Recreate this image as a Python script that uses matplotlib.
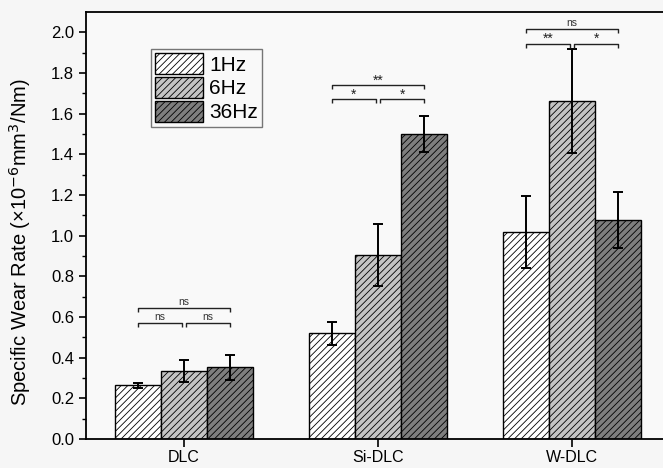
import numpy as np
import matplotlib
matplotlib.use('Agg')
import matplotlib.pyplot as plt

plt.rcParams['font.family'] = ['Liberation Sans', 'DejaVu Sans']
plt.rcParams['hatch.linewidth'] = 0.6

# --- data ---
groups = ['DLC', 'Si-DLC', 'W-DLC']
freqs = ['1Hz', '6Hz', '36Hz']
rate_1hz = [0.264, 0.519, 1.017]
rate_6hz = [0.336, 0.906, 1.664]
rate_36hz = [0.352, 1.500, 1.078]
err_1hz = [0.012, 0.058, 0.178]
err_6hz = [0.054, 0.152, 0.255]
err_36hz = [0.062, 0.090, 0.137]

# significance brackets: (group index, bar i, bar j, height, label)
sig_marks = [
    (0, 0, 1, 0.570, 'ns'), (0, 1, 2, 0.570, 'ns'), (0, 0, 2, 0.644, 'ns'),
    (1, 0, 1, 1.671, '*'), (1, 1, 2, 1.671, '*'), (1, 0, 2, 1.741, '**'),
    (2, 0, 1, 1.944, '**'), (2, 1, 2, 1.944, '*'), (2, 0, 2, 2.015, 'ns'),
]

colors = ['white', '#c4c4c4', '#7e7e7e']

fig = plt.figure(figsize=(6.63, 4.68), dpi=100, facecolor='#f6f6f6')
ax = fig.add_axes([86 / 663, 29 / 468, 583 / 663, 427 / 468])
ax.set_facecolor('#f9f9f9')

x = np.arange(1, len(groups) + 1)
w = 0.237
series = [(rate_1hz, err_1hz), (rate_6hz, err_6hz), (rate_36hz, err_36hz)]
for k, (vals, errs) in enumerate(series):
    pos = x + (k - 1) * w
    ax.bar(pos, vals, width=w, color=colors[k], edgecolor='black',
           linewidth=1.0, hatch='/////', label=freqs[k])
    ax.errorbar(pos, vals, yerr=errs, fmt='none', ecolor='black',
                elinewidth=1.4, capsize=3.3, capthick=1.4)

# brackets
tick_len = 0.02
for g, i, j, h, lab in sig_marks:
    x0 = x[g] + (i - 1) * w
    x1 = x[g] + (j - 1) * w
    if j - i == 1:
        x0 += 0.012 if i == 1 else 0.0
        x1 -= 0.012 if j == 1 else 0.0
    ax.plot([x0, x0, x1, x1], [h - tick_len, h, h, h - tick_len],
            color='#222222', lw=1.0, solid_capstyle='butt')
    if lab == 'ns':
        ax.text((x0 + x1) / 2, h + 0.006, lab, ha='center', va='bottom',
                fontsize=7.5, color='#333333')
    else:
        ax.text((x0 + x1) / 2, h - 0.012, lab, ha='center', va='bottom',
                fontsize=10, color='#222222')

ax.set_xlim(0.495, 3.5)
ax.set_ylim(0, 2.1)
ax.set_xticks(x)
ax.set_xticklabels(groups, fontsize=11.5)
ax.set_yticks(np.arange(0, 2.01, 0.2))
ax.set_yticklabels([f'{v:.1f}' for v in np.arange(0, 2.01, 0.2)], fontsize=12)
ax.set_yticks(np.arange(0.1, 2.1, 0.2), minor=True)
ax.tick_params(axis='y', which='major', direction='out', length=5, width=1.2)
ax.tick_params(axis='y', which='minor', direction='out', length=3, width=1.0)
ax.tick_params(axis='x', direction='out', length=6, width=1.2, pad=2)
ax.set_ylabel('Specific Wear Rate (×10$^{-6}$mm$^{3}$/Nm)', fontsize=14.5)
ax.yaxis.set_label_coords(-0.091, 0.46)

for s in ['left', 'bottom', 'top']:
    ax.spines[s].set_linewidth(1.3)
ax.spines['right'].set_visible(False)

leg = ax.legend(loc='upper left', bbox_to_anchor=(151 / 663, 1 - 49 / 468),
                bbox_transform=fig.transFigure, fontsize=15, frameon=True,
                fancybox=False, edgecolor='#555555', handlelength=2.3,
                handleheight=1.15, labelspacing=0.12, handletextpad=0.3,
                borderpad=0.2, borderaxespad=0)
leg.get_frame().set_linewidth(1.0)
leg.get_frame().set_facecolor('#f9f9f9')

fig.savefig('out.png', dpi=100, facecolor=fig.get_facecolor())
